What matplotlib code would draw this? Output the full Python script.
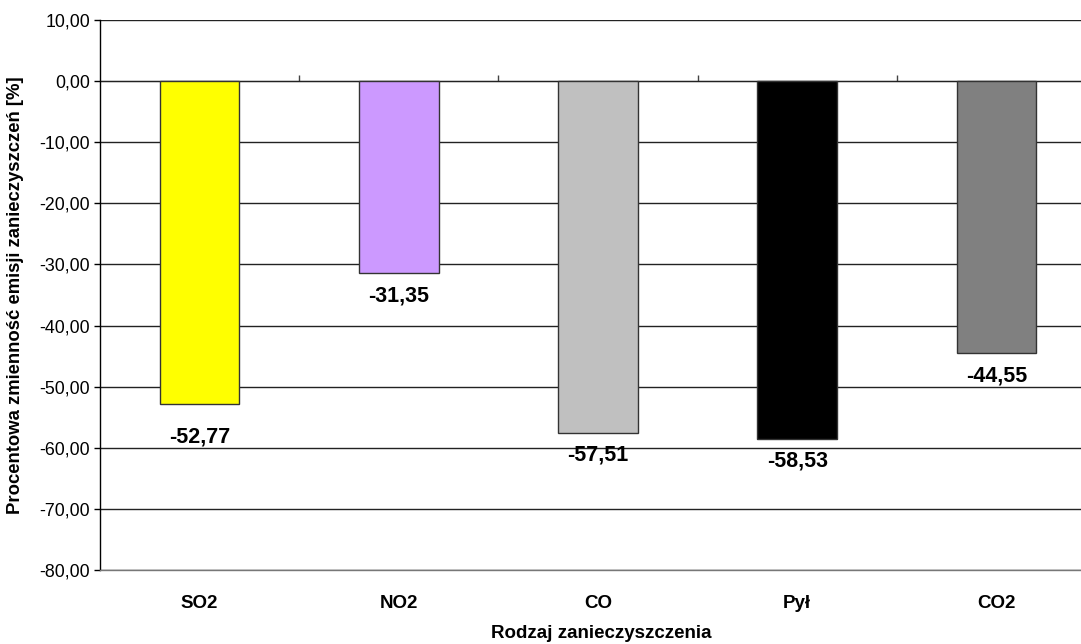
import matplotlib
matplotlib.use("Agg")
import matplotlib.pyplot as plt
from matplotlib.ticker import FuncFormatter, MultipleLocator

plt.rcParams['font.family'] = ['Liberation Sans', 'DejaVu Sans']

categories = ["SO2", "NO2", "CO", "Pył", "CO2"]
values = [-52.77, -31.35, -57.51, -58.53, -44.55]
colors = ["#FFFF00", "#CC99FF", "#C0C0C0", "#000000", "#808080"]
# labels were nudged by hand in the original chart
label_offsets = [-33, -23, -22, -22, -23]

W, H = 1081, 644
fig = plt.figure(figsize=(W / 100, H / 100), dpi=100)
ax = fig.add_axes([100 / W, (H - 570) / H, 996 / W, 550 / H])

x = list(range(len(categories)))
ax.bar(x, values, width=0.4, color=colors, edgecolor="#333333", linewidth=1, zorder=3)

ymin, ymax = -80, 10
ax.set_xlim(-0.5, len(categories) - 0.5)
ax.set_ylim(ymin, ymax)
ax.yaxis.set_major_locator(MultipleLocator(10))
ax.yaxis.set_major_formatter(FuncFormatter(lambda v, p: f"{v:.2f}".replace(".", ",")))
ax.grid(axis="y", color="#222222", linewidth=1, zorder=0)
ax.set_axisbelow(True)

for s in ["top", "right"]:
    ax.spines[s].set_visible(False)
ax.spines["bottom"].set_color("#777777")
ax.spines["bottom"].set_linewidth(1)
ax.spines["left"].set_linewidth(1)
ax.tick_params(axis="y", direction="out", length=4, width=1, labelsize=12.8, pad=3)

ax.set_xticks(x)
ax.set_xticklabels(categories, fontsize=13.5, fontweight="bold")
ax.tick_params(axis="x", length=0, pad=18)

# category axis crossing at zero, with tick marks between categories
sec = ax.secondary_xaxis((0 - ymin) / (ymax - ymin))
sec.set_xticks([i + 0.5 for i in x[:-1]])
sec.set_xticklabels([])
sec.tick_params(axis="x", direction="out", length=4, width=1, color="#444444")
sec.spines["bottom"].set_linewidth(1)
sec.spines["bottom"].set_color("#222222")

for xi, v, off in zip(x, values, label_offsets):
    ax.annotate(f"{v:.2f}".replace(".", ","), (xi, v), xytext=(0, off),
                textcoords="offset pixels", ha="center", va="center",
                fontsize=15.5, fontweight="bold", zorder=4)

ax.set_xlabel("Rodzaj zanieczyszczenia", fontsize=13.5, fontweight="bold")
ax.xaxis.label.set_va("center")
ax.xaxis.set_label_coords((601 - 100) / 996, -(634 - 570) / 550)

ax.set_ylabel("Procentowa zmienność emisji zanieczyszczeń [%]", fontsize=13.3, fontweight="bold")
ax.yaxis.label.set_va("center")
ax.yaxis.set_label_coords((16 - 100) / 996, (570 - 295) / 550)

fig.savefig("out.png", dpi=100)
